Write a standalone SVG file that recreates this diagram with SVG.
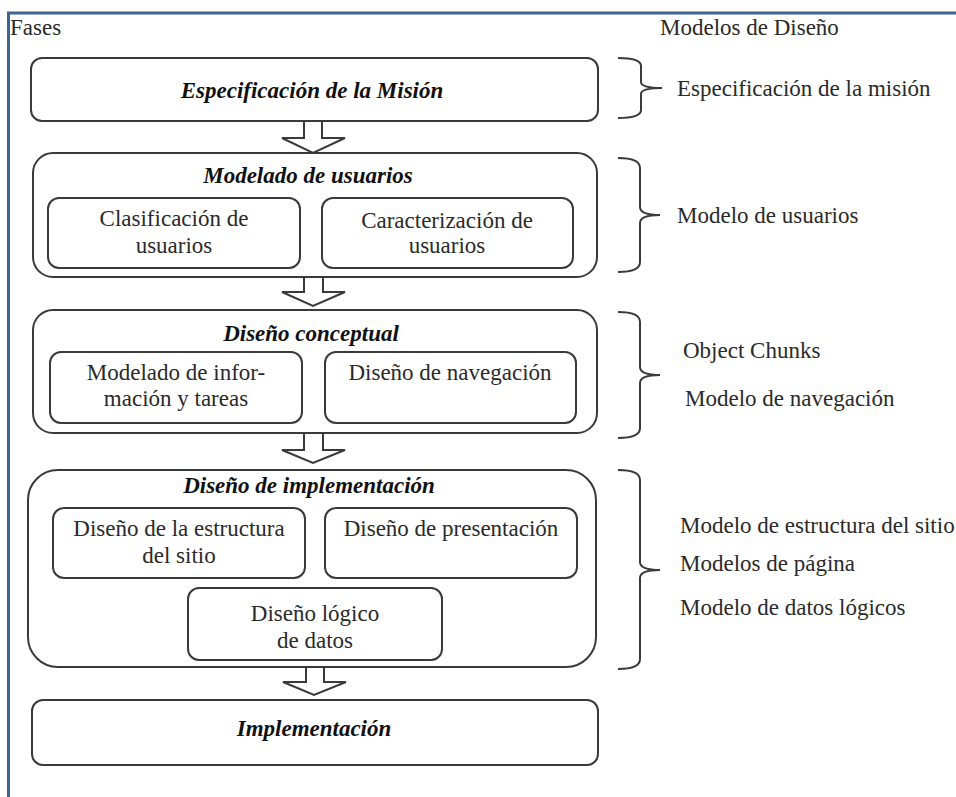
<svg xmlns="http://www.w3.org/2000/svg" width="956" height="797" viewBox="0 0 956 797" font-family="'Liberation Serif', 'Times New Roman', serif">
<style>
text{font-family:'Liberation Serif','Times New Roman',serif;font-size:23px;fill:#2a2a2a}
.t{font-weight:bold;font-style:italic;fill:#111;text-anchor:middle}
.c{text-anchor:middle}
.box{fill:#fff;stroke:#3a3a3a;stroke-width:2}
.arr{fill:#fff;stroke:#3a3a3a;stroke-width:2;stroke-linejoin:miter}
.br{fill:none;stroke:#3a3a3a;stroke-width:2}
.frame{stroke:#3b6592;stroke-width:3;fill:none}
</style>
<rect width="956" height="797" fill="#fff"/>
<g id="frame">
<path class="frame" d="M8.5,797 L8.5,13 L956,13"/>
</g>
<g id="headers">
<text x="10" y="35" font-family="Liberation Serif, serif">Fases</text>
<text x="660" y="35" font-family="Liberation Serif, serif">Modelos de Diseño</text>
</g>
<g id="n1">
<rect class="box" x="31" y="58" width="567" height="63" rx="11"/>
<text class="t" x="312" y="98" font-family="Liberation Serif, serif">Especificación de la Misión</text>
</g>
<g id="n2">
<rect class="box" x="33" y="153" width="564" height="124" rx="20"/>
<text class="t" x="308" y="183" font-family="Liberation Serif, serif">Modelado de usuarios</text>
<g id="n2a">
<rect class="box" x="48" y="198" width="252" height="70" rx="11"/>
<text class="c" x="174" y="226" font-family="Liberation Serif, serif">Clasificación de</text>
<text class="c" x="174" y="253" font-family="Liberation Serif, serif">usuarios</text>
</g>
<g id="n2b">
<rect class="box" x="322" y="198" width="251" height="70" rx="11"/>
<text class="c" x="447" y="228" font-family="Liberation Serif, serif">Caracterización de</text>
<text class="c" x="447" y="253" font-family="Liberation Serif, serif">usuarios</text>
</g>
</g>
<g id="n3">
<rect class="box" x="33" y="310" width="564" height="123" rx="20"/>
<text class="t" x="311" y="341" font-family="Liberation Serif, serif">Diseño conceptual</text>
<g id="n3a">
<rect class="box" x="50" y="352" width="252" height="71" rx="11"/>
<text class="c" x="176" y="380" font-family="Liberation Serif, serif">Modelado de infor-</text>
<text class="c" x="176" y="406" font-family="Liberation Serif, serif">mación y tareas</text>
</g>
<g id="n3b">
<rect class="box" x="325" y="352" width="251" height="71" rx="11"/>
<text class="c" x="450" y="380" font-family="Liberation Serif, serif">Diseño de navegación</text>
</g>
</g>
<g id="n4">
<rect class="box" x="28" y="470" width="568" height="197" rx="30"/>
<text class="t" x="309" y="493" font-family="Liberation Serif, serif">Diseño de implementación</text>
<g id="n4a">
<rect class="box" x="53" y="508" width="252" height="70" rx="11"/>
<text class="c" x="179" y="536" font-family="Liberation Serif, serif">Diseño de la estructura</text>
<text class="c" x="179" y="563" font-family="Liberation Serif, serif">del sitio</text>
</g>
<g id="n4b">
<rect class="box" x="325" y="508" width="252" height="70" rx="11"/>
<text class="c" x="451" y="536" font-family="Liberation Serif, serif">Diseño de presentación</text>
</g>
<g id="n4c">
<rect class="box" x="188" y="588" width="254" height="72" rx="11"/>
<text class="c" x="315" y="621" font-family="Liberation Serif, serif">Diseño lógico</text>
<text class="c" x="315" y="648" font-family="Liberation Serif, serif">de datos</text>
</g>
</g>
<g id="n5">
<rect class="box" x="32" y="700" width="566" height="65" rx="11"/>
<text class="t" x="314" y="736" font-family="Liberation Serif, serif">Implementación</text>
</g>
<g id="connectors">
<path class="arr" d="M304,121 L322,121 L322,138 L345,138 L313,153 L282,138 L304,138 Z"/>
<path class="arr" d="M304,277 L323,277 L323,292 L345,292 L313,306 L282,292 L304,292 Z"/>
<path class="arr" d="M304,433 L323,433 L323,450 L345,450 L313,463 L282,450 L304,450 Z"/>
<path class="arr" d="M306,667 L324,667 L324,682 L346,682 L314,695 L283,682 L306,682 Z"/>
</g>
<g id="braces">
<path class="br" d="M618,58 Q641,58 641,66 L641,82 Q641,88 662,88 Q641,88 641,94 L641,110 Q641,118 618,118"/>
<path class="br" d="M618,158 Q640,158 640,168 L640,207 Q640,215 660,215 Q640,215 640,223 L640,262 Q640,272 618,272"/>
<path class="br" d="M618,312 Q640,312 640,322 L640,367 Q640,375 660,375 Q640,375 640,383 L640,428 Q640,438 618,438"/>
<path class="br" d="M618,470 Q640,470 640,480 L640,562 Q640,570 660,570 Q640,570 640,578 L640,659 Q640,669 618,669"/>
</g>
<g id="models">
<text x="677" y="96" font-family="Liberation Serif, serif">Especificación de la misión</text>
<text x="677" y="223" font-family="Liberation Serif, serif">Modelo de usuarios</text>
<text x="683" y="358" font-family="Liberation Serif, serif">Object Chunks</text>
<text x="685" y="406" font-family="Liberation Serif, serif">Modelo de navegación</text>
<text x="680" y="533" font-family="Liberation Serif, serif">Modelo de estructura del sitio</text>
<text x="680" y="571" font-family="Liberation Serif, serif">Modelos de página</text>
<text x="680" y="615" font-family="Liberation Serif, serif">Modelo de datos lógicos</text>
</g>
</svg>
